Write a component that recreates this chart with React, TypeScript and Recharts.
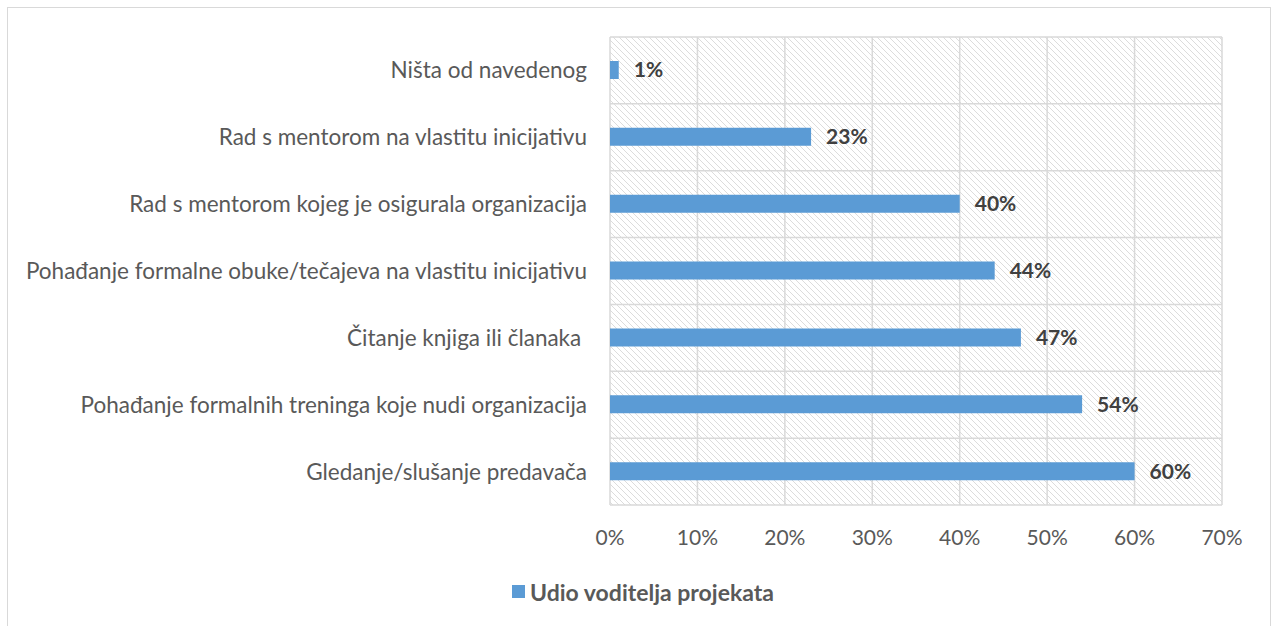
import React from "react";
import {
  BarChart,
  Bar,
  XAxis,
  YAxis,
  CartesianGrid,
  LabelList,
  Legend,
} from "recharts";

const categories = [
  "Ništa od navedenog",
  "Rad s mentorom na vlastitu inicijativu",
  "Rad s mentorom kojeg je osigurala organizacija",
  "Pohađanje formalne obuke/tečajeva na vlastitu inicijativu",
  "Čitanje knjiga ili članaka\u00A0",
  "Pohađanje formalnih treninga koje nudi organizacija",
  "Gledanje/slušanje predavača",
];
const values = [1, 23, 40, 44, 47, 54, 60];
const xTicks = [0, 10, 20, 30, 40, 50, 60, 70];
const gridRows = [0, 1, 2, 3, 4, 5, 6, 7];
const seriesName = "Udio voditelja projekata";

const data = categories.map((c, i) => ({ category: c, value: values[i] }));

const FONT = "Lato, 'Open Sans', sans-serif";

const LegendContent = () => (
  <div
    style={{
      height: 91,
      display: "flex",
      justifyContent: "center",
      alignItems: "flex-start",
      paddingTop: 43,
      boxSizing: "border-box",
      fontFamily: FONT,
    }}
  >
    <span
      style={{
        display: "inline-block",
        width: 13,
        height: 13,
        background: "#5b9bd5",
        marginRight: 5,
        marginTop: 7,
        marginLeft: 56,
      }}
    />
    <span style={{ fontSize: 23, fontWeight: 700, color: "#595959" }}>
      {seriesName}
    </span>
  </div>
);

export default function App() {
  return (
    <div
      style={{
        position: "absolute",
        left: 7,
        top: 7,
        width: 1262,
        height: 640,
        border: "1px solid #d9d9d9",
        background: "#fff",
      }}
    >
      <svg width={0} height={0} style={{ position: "absolute" }}>
        <defs>
          <pattern
            id="hatch"
            patternUnits="userSpaceOnUse"
            width={6}
            height={6}
          >
            <rect width={6} height={6} fill="#ffffff" />
            <path
              d="M-1,-1 L7,7 M-4,2 L2,8 M2,-4 L8,2"
              stroke="#dcdcdc"
              strokeWidth={1}
            />
          </pattern>
        </defs>
      </svg>
      <BarChart
        width={1262}
        height={618}
        data={data}
        layout="vertical"
        margin={{ top: 29, right: 48, left: 0, bottom: 0 }}
        barCategoryGap={0}
      >
        <CartesianGrid
          stroke="#d9d9d9"
          strokeWidth={1.5}
          fill="url(#hatch)"
          fillOpacity={1}
          horizontalCoordinatesGenerator={({ offset }: any) =>
            gridRows.map(
              (i) => offset.top + (i * offset.height) / categories.length
            )
          }
        />
        <XAxis
          type="number"
          domain={[0, 70]}
          ticks={xTicks}
          tickFormatter={(v) => `${v}%`}
          axisLine={false}
          tickLine={false}
          tickSize={0}
          tickMargin={25}
          height={30}
          interval={0}
          tick={{ fontSize: 21, fill: "#595959", fontFamily: FONT }}
        />
        <YAxis
          type="category"
          dataKey="category"
          width={602}
          axisLine={false}
          tickLine={false}
          tickSize={0}
          tickMargin={23}
          interval={0}
          tick={{ fontSize: 22.5, fill: "#595959", fontFamily: FONT }}
        />
        <Legend verticalAlign="bottom" content={<LegendContent />} />
        <Bar
          dataKey="value"
          name={seriesName}
          fill="#5b9bd5"
          barSize={18}
          isAnimationActive={false}
        >
          <LabelList
            dataKey="value"
            position="right"
            offset={15}
            formatter={(v: number) => `${v}%`}
            style={{
              fontSize: 21,
              fontWeight: 700,
              fill: "#404040",
              fontFamily: FONT,
            }}
          />
        </Bar>
      </BarChart>
    </div>
  );
}
